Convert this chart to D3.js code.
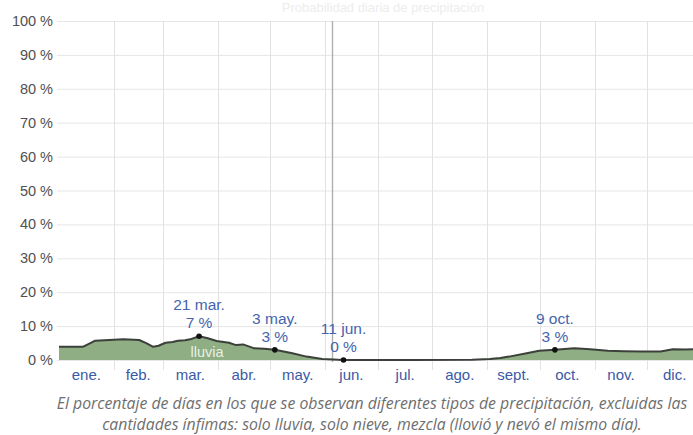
<!DOCTYPE html>
<html lang="es">
<head>
<meta charset="utf-8">
<script src="https://cdn.jsdelivr.net/npm/d3@7"></script>
<style>
  html, body { margin: 0; padding: 0; background: #fff; }
  svg { display: block; }
</style>
</head>
<body>
<svg id="chart" width="693" height="435"></svg>
<script>
// Daily chance of rain over the year (day of year, 0 = 1 Jan)
const rainDays = [0, 7, 13, 17, 20, 28, 36, 45, 49, 53, 56, 60, 64, 67, 71, 74, 79, 84, 89, 96, 100, 104, 110, 116, 122, 127, 132, 140, 149, 161, 200, 234, 244, 250, 255, 265, 272, 281, 292, 301, 311, 320, 330, 341, 348, 355, 364];
const rainPct  = [3.9, 3.9, 3.9, 4.9, 5.7, 5.9, 6.1, 5.9, 5.0, 3.9, 4.2, 5.1, 5.3, 5.7, 5.8, 6.1, 7.0, 6.4, 5.6, 5.1, 4.4, 4.6, 3.5, 3.3, 3.0, 2.5, 2.0, 1.0, 0.3, 0.0, 0.0, 0.05, 0.3, 0.6, 1.0, 2.0, 2.7, 3.0, 3.5, 3.2, 2.75, 2.6, 2.5, 2.5, 3.2, 3.1, 3.2];

// Highlighted days
const markDays   = [79, 122, 161, 281];
const markDates  = ["21 mar.", "3 may.", "11 jun.", "9 oct."];
const markValues = [7, 3, 0, 3];

// Months
const monthNames  = ["ene.", "feb.", "mar.", "abr.", "may.", "jun.", "jul.", "ago.", "sept.", "oct.", "nov.", "dic."];
const monthStarts = [0, 31, 59, 90, 120, 151, 181, 212, 243, 273, 304, 334, 365];

// Y axis ticks
const yTicks = [0, 10, 20, 30, 40, 50, 60, 70, 80, 90, 100];
const todayDay = 155;

const svg = d3.select("#chart");
const x = d3.scaleLinear().domain([0, 365]).range([59, 702]);
const y = d3.scaleLinear().domain([0, 100]).range([360, 21]);
const plotLeft = 57, plotRight = 693;
const sans = "Liberation Sans, Arial, sans-serif";

// faint title
svg.append("text")
  .attr("x", 383).attr("y", 12)
  .attr("text-anchor", "middle")
  .attr("font-family", sans)
  .attr("font-size", 13)
  .attr("fill", "#ededed")
  .text("Probabilidad diaria de precipitación");

// horizontal grid
svg.append("g").selectAll("line").data(yTicks).join("line")
  .attr("x1", plotLeft).attr("x2", plotRight)
  .attr("y1", d => y(d) + 0.5).attr("y2", d => y(d) + 0.5)
  .attr("stroke", "#e6e6e6").attr("stroke-width", 1);

// vertical month grid
svg.append("g").selectAll("line").data(monthStarts.slice(1, 12)).join("line")
  .attr("x1", d => Math.round(x(d)) + 0.5).attr("x2", d => Math.round(x(d)) + 0.5)
  .attr("y1", y(100)).attr("y2", 370)
  .attr("stroke", "#e2e2e2").attr("stroke-width", 1);

// today marker line
svg.append("line")
  .attr("x1", Math.round(x(todayDay)) + 0.5).attr("x2", Math.round(x(todayDay)) + 0.5)
  .attr("y1", y(100)).attr("y2", 362)
  .attr("stroke", "#b0b0b0").attr("stroke-width", 1.4);

// y axis labels
svg.append("g").selectAll("text").data(yTicks).join("text")
  .attr("x", 53).attr("y", d => y(d) + 5)
  .attr("text-anchor", "end")
  .attr("font-family", sans)
  .attr("font-size", 14.5)
  .attr("fill", "#505050")
  .text(d => d + " %");

// rain area and line
const pts = rainDays.map((d, i) => [d + 0.5, rainPct[i]]);
pts[0][0] = 0;
const area = d3.area().x(p => x(p[0])).y0(y(0)).y1(p => y(p[1]));
const line = d3.line().x(p => x(p[0])).y(p => y(p[1]));

svg.append("path").datum(pts)
  .attr("d", area)
  .attr("fill", "#8fae84");

svg.append("path").datum(pts)
  .attr("d", line)
  .attr("fill", "none")
  .attr("stroke", "#3c403b")
  .attr("stroke-width", 2)
  .attr("stroke-linejoin", "round");

// series label inside the area
svg.append("text")
  .attr("x", 207).attr("y", 357)
  .attr("text-anchor", "middle")
  .attr("font-family", sans)
  .attr("font-size", 14.5)
  .attr("fill", "#e8f0e5")
  .text("lluvia");

// month labels
svg.append("g").selectAll("text").data(monthNames).join("text")
  .attr("x", (d, i) => x((monthStarts[i] + monthStarts[i + 1]) / 2))
  .attr("y", 380)
  .attr("text-anchor", "middle")
  .attr("font-family", sans)
  .attr("font-size", 15)
  .attr("fill", "#3a5aa6")
  .text(d => d);

// highlighted points with labels
const marks = markDays.map((d, i) => ({ day: d, date: markDates[i], v: markValues[i] }));
const mg = svg.append("g").selectAll("g").data(marks).join("g");
mg.append("circle")
  .attr("cx", d => x(d.day + 0.5)).attr("cy", d => y(d.v))
  .attr("r", 2.8).attr("fill", "#111");
mg.append("text")
  .attr("x", d => x(d.day + 0.5)).attr("y", d => y(d.v) - 26)
  .attr("text-anchor", "middle")
  .attr("font-family", sans)
  .attr("font-size", 15.5)
  .attr("fill", "#4564ad")
  .text(d => d.date);
mg.append("text")
  .attr("x", d => x(d.day + 0.5)).attr("y", d => y(d.v) - 8)
  .attr("text-anchor", "middle")
  .attr("font-family", sans)
  .attr("font-size", 15.5)
  .attr("fill", "#4564ad")
  .text(d => d.v + " %");

// caption
const caption = [
  "El porcentaje de días en los que se observan diferentes tipos de precipitación, excluidas las",
  "cantidades ínfimas: solo lluvia, solo nieve, mezcla (llovió y nevó el mismo día)."
];
svg.append("g").selectAll("text").data(caption).join("text")
  .attr("x", 372).attr("y", (d, i) => 409 + i * 21)
  .attr("text-anchor", "middle")
  .attr("font-family", "Open Sans, sans-serif")
  .attr("font-style", "italic")
  .attr("font-size", 15.8)
  .attr("fill", "#6e6e6e")
  .text(d => d);
</script>
</body>
</html>
